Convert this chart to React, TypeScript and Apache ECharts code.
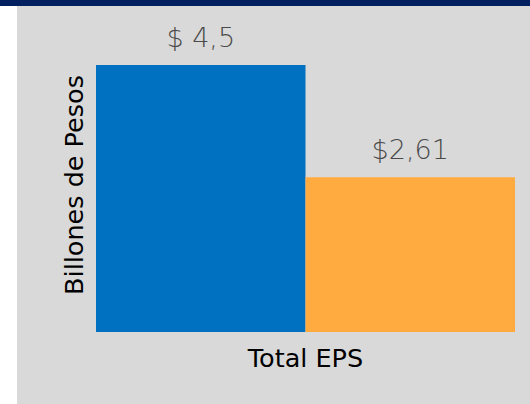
import React, { useEffect, useRef } from "react";
import * as echarts from "echarts";

const categories = ["Total EPS"];
const seriesNames = ["Serie 1", "Serie 2"];
const valuesA = [4.5];
const valuesB = [2.61];
const labelsA = ["$ 4,5"];
const labelsB = ["$2,61"];
const yAxisTitle = "Billones de Pesos";

export default function App() {
  const ref = useRef<HTMLDivElement>(null);
  useEffect(() => {
    document.body.style.margin = "0";
    const chart = echarts.init(ref.current!, null, { renderer: "svg" });
    const labelStyle = {
      show: true,
      position: "top" as const,
      distance: 14,
      fontFamily: "DejaVu Sans",
      fontWeight: 300,
      fontSize: 27,
      color: "#4a4a4a",
    };
    chart.setOption({
      animation: false,
      backgroundColor: "#ffffff",
      graphic: [
        { type: "rect", z: -10, shape: { x: 0, y: 0, width: 530, height: 6 }, style: { fill: "#002060" } },
        { type: "rect", z: -10, shape: { x: 17, y: 6, width: 513, height: 398 }, style: { fill: "#d9d9d9" } },
        {
          type: "text",
          x: 74,
          y: 185,
          rotation: Math.PI / 2,
          style: {
            text: yAxisTitle,
            fontFamily: "DejaVu Sans",
            fontSize: 25.5,
            fill: "#000000",
            align: "center",
            verticalAlign: "middle",
          },
        },
      ],
      grid: { left: 96, right: 15, top: 65, bottom: 72, containLabel: false },
      xAxis: {
        type: "category",
        data: categories,
        axisLine: { show: false },
        axisTick: { show: false },
        axisLabel: { margin: 13, fontFamily: "DejaVu Sans", fontSize: 25.5, color: "#000000" },
      },
      yAxis: {
        type: "value",
        min: 0,
        max: 4.5,
        show: false,
        splitLine: { show: false },
      },
      series: [
        {
          name: seriesNames[0],
          type: "bar",
          data: valuesA,
          barGap: "0%",
          barCategoryGap: "0%",
          itemStyle: { color: "#0070c0" },
          label: { ...labelStyle, formatter: (p: any) => labelsA[p.dataIndex] },
        },
        {
          name: seriesNames[1],
          type: "bar",
          data: valuesB,
          barGap: "0%",
          barCategoryGap: "0%",
          itemStyle: { color: "#ffab40" },
          label: { ...labelStyle, formatter: (p: any) => labelsB[p.dataIndex] },
        },
      ],
    });
    return () => chart.dispose();
  }, []);
  return <div ref={ref} style={{ position: "absolute", left: 0, top: 0, width: 530, height: 404 }} />;
}
